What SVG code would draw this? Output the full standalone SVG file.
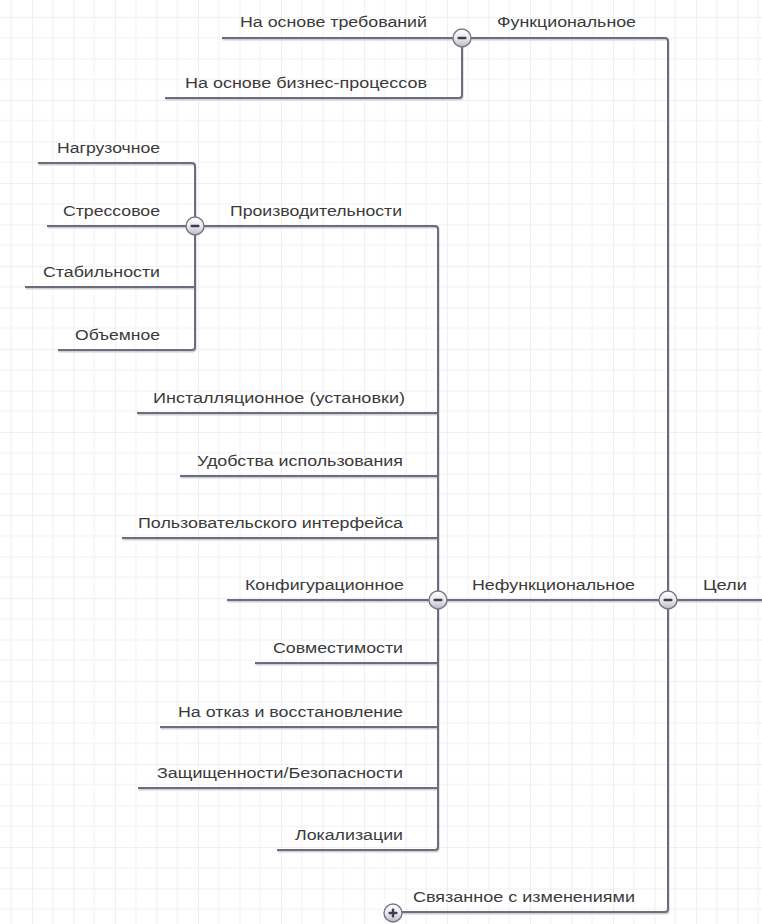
<svg xmlns="http://www.w3.org/2000/svg" width="762" height="924" viewBox="0 0 762 924">
  <style>
    .lbl { font-family: "Liberation Sans", Arial, sans-serif; font-size: 14px; fill: #3a3a3a; }
    .wire { fill: none; stroke: #6c6c7c; stroke-width: 2; stroke-linejoin: round; }
    .wire-shadow { fill: none; stroke: #cfcfd6; stroke-width: 2; stroke-linejoin: round; }
    .knob { fill: url(#knobFill); stroke: #767686; stroke-width: 1.4; }
    .sign { fill: #3e3e48; }
  </style>
  <defs>
    <pattern id="grid" x="32" y="17" width="41.5" height="41.5" patternUnits="userSpaceOnUse">
      <path d="M20.75 0 V41.5 M0 20.75 H41.5" stroke="#f2f2f2" stroke-width="1" fill="none"/>
      <path d="M0 0 V41.5 M0 0 H41.5" stroke="#e4e4e4" stroke-width="1.2" fill="none"/>
    </pattern>
    <linearGradient id="knobFill" x1="0" y1="0" x2="0" y2="1">
      <stop offset="0" stop-color="#ffffff"/>
      <stop offset="0.55" stop-color="#e6e6ec"/>
      <stop offset="1" stop-color="#b9b9c4"/>
    </linearGradient>
    <g id="minus">
      <circle class="knob" r="9"/>
      <rect class="sign" x="-4.5" y="-1.3" width="9" height="2.6" rx="1"/>
    </g>
    <g id="plus">
      <circle class="knob" r="9"/>
      <rect class="sign" x="-4.5" y="-1.2" width="9" height="2.4" rx="1"/>
      <rect class="sign" x="-1.2" y="-4.5" width="2.4" height="9" rx="1"/>
    </g>
  </defs>

  <!-- background grid -->
  <rect width="762" height="924" fill="#ffffff"/>
  <rect width="762" height="924" fill="url(#grid)"/>

  <!-- connectors -->
  <g id="connectors">
    <g transform="translate(0.6,1.6)">
      <path class="wire-shadow" d="M762 600 H668 M462 38 H665 Q668 38 668 41 V909 Q668 912 665 912 H393 M668 600 H438"/>
      <path class="wire-shadow" d="M222 38 H462 V95 Q462 98 459 98 H165"/>
      <path class="wire-shadow" d="M195 226 H435 Q438 226 438 229 V847 Q438 850 435 850 H277 M137 413 H438 M180 476 H438 M122 538 H438 M227 600 H438 M255 663 H438 M160 727 H438 M138 788 H438"/>
      <path class="wire-shadow" d="M38 163 H192 Q195 163 195 166 V347 Q195 350 192 350 H58 M47 226 H195 M25 287 H195"/>
    </g>
    <path class="wire" d="M762 600 H668 M462 38 H665 Q668 38 668 41 V909 Q668 912 665 912 H393 M668 600 H438"/>
    <path class="wire" d="M222 38 H462 V95 Q462 98 459 98 H165"/>
    <path class="wire" d="M195 226 H435 Q438 226 438 229 V847 Q438 850 435 850 H277 M137 413 H438 M180 476 H438 M122 538 H438 M227 600 H438 M255 663 H438 M160 727 H438 M138 788 H438"/>
    <path class="wire" d="M38 163 H192 Q195 163 195 166 V347 Q195 350 192 350 H58 M47 226 H195 M25 287 H195"/>
  </g>

  <!-- root -->
  <g id="node-goals">
    <text class="lbl" x="703" y="590" textLength="44" lengthAdjust="spacingAndGlyphs">Цели</text>
    <use href="#minus" x="668" y="600"/>
  </g>

  <!-- functional branch -->
  <g id="node-functional">
    <text class="lbl" x="497" y="27" textLength="139" lengthAdjust="spacingAndGlyphs">Функциональное</text>
    <use href="#minus" x="462" y="38"/>
  </g>
  <g id="node-requirements">
    <text class="lbl" x="240" y="27" textLength="187" lengthAdjust="spacingAndGlyphs">На основе требований</text>
  </g>
  <g id="node-business">
    <text class="lbl" x="185" y="88" textLength="242" lengthAdjust="spacingAndGlyphs">На основе бизнес-процессов</text>
  </g>

  <!-- non-functional branch -->
  <g id="node-nonfunctional">
    <text class="lbl" x="472" y="590" textLength="163" lengthAdjust="spacingAndGlyphs">Нефункциональное</text>
    <use href="#minus" x="438" y="600"/>
  </g>
  <g id="node-performance">
    <text class="lbl" x="230" y="216" textLength="172" lengthAdjust="spacingAndGlyphs">Производительности</text>
    <use href="#minus" x="195" y="226"/>
  </g>
  <g id="node-load">
    <text class="lbl" x="57" y="153" textLength="103" lengthAdjust="spacingAndGlyphs">Нагрузочное</text>
  </g>
  <g id="node-stress">
    <text class="lbl" x="63" y="216" textLength="97" lengthAdjust="spacingAndGlyphs">Стрессовое</text>
  </g>
  <g id="node-stability">
    <text class="lbl" x="43" y="277" textLength="117" lengthAdjust="spacingAndGlyphs">Стабильности</text>
  </g>
  <g id="node-volume">
    <text class="lbl" x="75" y="340" textLength="85" lengthAdjust="spacingAndGlyphs">Объемное</text>
  </g>
  <g id="node-install">
    <text class="lbl" x="153" y="403" textLength="252" lengthAdjust="spacingAndGlyphs">Инсталляционное (установки)</text>
  </g>
  <g id="node-usability">
    <text class="lbl" x="197" y="466" textLength="206" lengthAdjust="spacingAndGlyphs">Удобства использования</text>
  </g>
  <g id="node-ui">
    <text class="lbl" x="138" y="528" textLength="265" lengthAdjust="spacingAndGlyphs">Пользовательского интерфейса</text>
  </g>
  <g id="node-config">
    <text class="lbl" x="245" y="590" textLength="159" lengthAdjust="spacingAndGlyphs">Конфигурационное</text>
  </g>
  <g id="node-compat">
    <text class="lbl" x="273" y="653" textLength="130" lengthAdjust="spacingAndGlyphs">Совместимости</text>
  </g>
  <g id="node-recovery">
    <text class="lbl" x="178" y="717" textLength="225" lengthAdjust="spacingAndGlyphs">На отказ и восстановление</text>
  </g>
  <g id="node-security">
    <text class="lbl" x="157" y="778" textLength="246" lengthAdjust="spacingAndGlyphs">Защищенности/Безопасности</text>
  </g>
  <g id="node-localization">
    <text class="lbl" x="295" y="840" textLength="108" lengthAdjust="spacingAndGlyphs">Локализации</text>
  </g>

  <!-- change-related branch (collapsed) -->
  <g id="node-changes">
    <text class="lbl" x="413" y="902" textLength="222" lengthAdjust="spacingAndGlyphs">Связанное с изменениями</text>
    <use href="#plus" x="393" y="913"/>
  </g>
</svg>
